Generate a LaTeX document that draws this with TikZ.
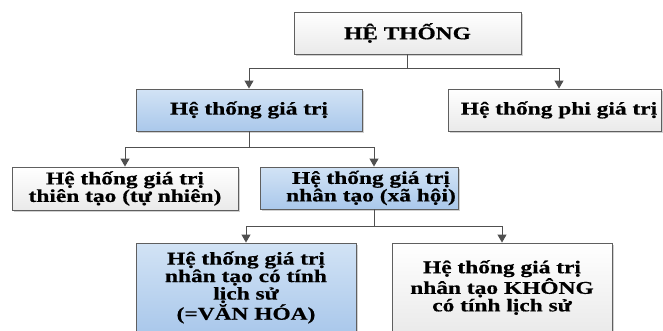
\documentclass[tikz,border=0pt]{standalone}
\usepackage{fontspec}
\setmainfont[FakeStretch=1.3,BoldFeatures={FakeBold=0.6}]{Liberation Serif}
\usetikzlibrary{arrows.meta,shadows}
\definecolor{bordercol}{RGB}{95,95,95}
\definecolor{linecol}{RGB}{80,80,80}
\definecolor{bluetop}{RGB}{210,227,245}
\definecolor{bluebot}{RGB}{170,200,235}
\definecolor{whitebot}{RGB}{234,234,234}
\begin{document}
\begin{tikzpicture}[x=1pt,y=1pt,
  boxbase/.style={draw=bordercol,line width=0.9pt,inner xsep=1pt,inner ysep=1pt,
    align=center,font=\bfseries\fontsize{18}{17.5}\selectfont,
    drop shadow={shadow xshift=2pt,shadow yshift=-2pt,fill=black,opacity=0.18}},
  wbox/.style={boxbase,top color=white,bottom color=whitebot},
  bbox/.style={boxbase,top color=bluetop,bottom color=bluebot},
  conn/.style={draw=linecol,line width=1pt,-{Triangle[width=9pt,length=8pt]}},
  plain/.style={draw=linecol,line width=1pt}]
\useasboundingbox (0,0) rectangle (663,330);
\fill[white] (0,0) rectangle (663,330);

\node[wbox,minimum width=227pt,minimum height=42pt] (top) at (407.5,297) {HỆ THỐNG};
\node[bbox,minimum width=226pt,minimum height=42pt] (b2) at (249,220) {Hệ thống giá trị};
\node[wbox,minimum width=213pt,minimum height=42pt] (b3) at (554.5,220) {\hspace*{9pt}Hệ thống phi giá trị};
\node[wbox,minimum width=226pt,minimum height=43pt] (b4) at (125,141.5) {Hệ thống giá trị\\thiên tạo (tự nhiên)};
\node[bbox,minimum width=198pt,minimum height=42pt] (b5) at (359,142) {\hspace*{24pt}Hệ thống giá trị\\\hspace*{24pt}nhân tạo (xã hội)};
\node[bbox,minimum width=220pt,minimum height=89pt] (b6) at (246,42.5) {Hệ thống giá trị\\nhân tạo có tính\\lịch sử\\(=VĂN HÓA)};
\node[wbox,minimum width=220pt,minimum height=89pt] (b7) at (502,42.5) {Hệ thống giá trị\\nhân tạo KHÔNG\\có tính lịch sử};

\coordinate (j1) at (407.5,261);
\coordinate (j2) at (249,183);
\coordinate (j3) at (374,104);

\draw[plain] (top.south) -- (j1);
\draw[conn] (j1) -| (b2.north);
\draw[conn] (j1) -| ([xshift=4.5pt]b3.north);

\draw[plain] (b2.south) -- (j2);
\draw[conn] (j2) -| (b4.north);
\draw[conn] (j2) -| ([xshift=15pt]b5.north);

\draw[plain] ([xshift=15pt]b5.south) -- (j3);
\draw[conn] (j3) -| (b6.north);
\draw[conn] (j3) -| (b7.north);
\end{tikzpicture}
\end{document}
